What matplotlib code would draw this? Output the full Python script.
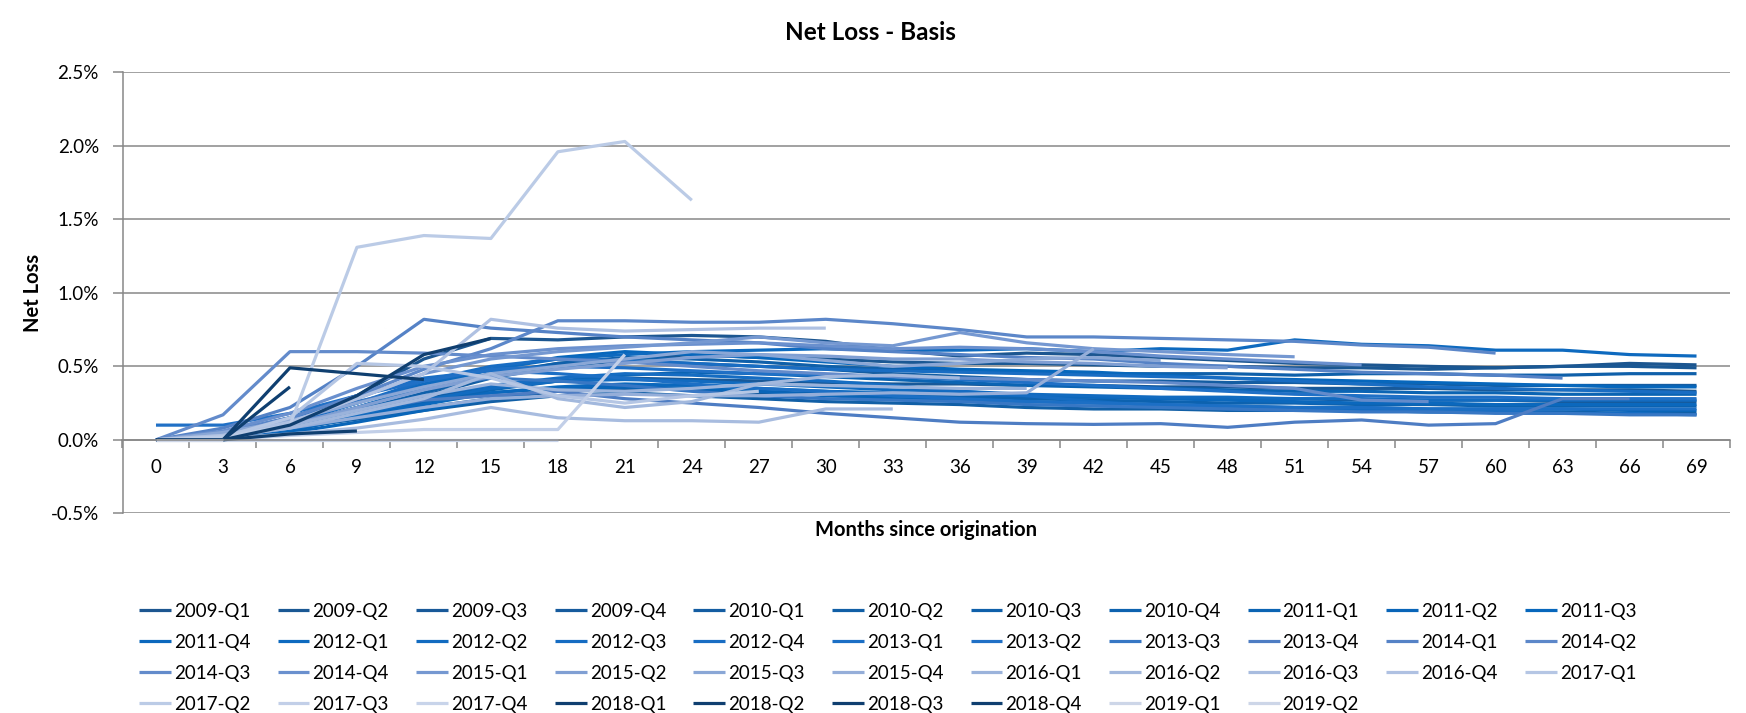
import numpy as np
import matplotlib.pyplot as plt
from matplotlib.colors import to_rgb
from matplotlib.ticker import FuncFormatter, FixedLocator

plt.rcParams['font.family'] = ['Lato', 'DejaVu Sans']

# months since origination (category axis)
months = [0, 3, 6, 9, 12, 15, 18, 21, 24, 27, 30, 33, 36, 39, 42, 45, 48, 51, 54, 57, 60, 63, 66, 69]

quarters = ['2009-Q1', '2009-Q2', '2009-Q3', '2009-Q4',
            '2010-Q1', '2010-Q2', '2010-Q3', '2010-Q4',
            '2011-Q1', '2011-Q2', '2011-Q3', '2011-Q4',
            '2012-Q1', '2012-Q2', '2012-Q3', '2012-Q4',
            '2013-Q1', '2013-Q2', '2013-Q3', '2013-Q4',
            '2014-Q1', '2014-Q2', '2014-Q3', '2014-Q4',
            '2015-Q1', '2015-Q2', '2015-Q3', '2015-Q4',
            '2016-Q1', '2016-Q2', '2016-Q3', '2016-Q4',
            '2017-Q1', '2017-Q2', '2017-Q3', '2017-Q4',
            '2018-Q1', '2018-Q2', '2018-Q3', '2018-Q4',
            '2019-Q1', '2019-Q2']

# net loss in %, one list per cohort
loss_2009 = [
    [0, 0.04, 0.15, 0.30, 0.55, 0.69, 0.68, 0.70, 0.71, 0.70, 0.67, 0.61, 0.57, 0.59, 0.58, 0.56, 0.54, 0.52, 0.51, 0.50, 0.49, 0.50, 0.52, 0.51],
    [0, 0.02, 0.10, 0.22, 0.35, 0.45, 0.52, 0.55, 0.58, 0.56, 0.55, 0.53, 0.52, 0.52, 0.51, 0.50, 0.50, 0.49, 0.49, 0.48, 0.49, 0.50, 0.50, 0.49],
    [0, 0.01, 0.08, 0.18, 0.28, 0.36, 0.40, 0.42, 0.41, 0.40, 0.39, 0.38, 0.38, 0.37, 0.37, 0.36, 0.36, 0.35, 0.35, 0.35, 0.34, 0.34, 0.34, 0.33],
    [0, 0.02, 0.07, 0.15, 0.22, 0.28, 0.33, 0.35, 0.34, 0.32, 0.31, 0.30, 0.30, 0.29, 0.29, 0.28, 0.28, 0.28, 0.27, 0.27, 0.27, 0.26, 0.26, 0.26],
]
loss_2010 = [
    [0, 0.01, 0.06, 0.16, 0.30, 0.42, 0.50, 0.54, 0.52, 0.50, 0.48, 0.45, 0.43, 0.41, 0.40, 0.40, 0.39, 0.39, 0.38, 0.38, 0.37, 0.37, 0.37, 0.37],
    [0, 0.02, 0.08, 0.14, 0.20, 0.26, 0.30, 0.32, 0.30, 0.28, 0.26, 0.25, 0.24, 0.22, 0.21, 0.21, 0.20, 0.20, 0.20, 0.19, 0.19, 0.19, 0.18, 0.18],
    [0, 0.01, 0.09, 0.20, 0.32, 0.44, 0.52, 0.56, 0.55, 0.53, 0.50, 0.48, 0.47, 0.46, 0.45, 0.45, 0.45, 0.44, 0.45, 0.45, 0.44, 0.44, 0.45, 0.45],
    [0, 0.03, 0.10, 0.18, 0.26, 0.32, 0.35, 0.36, 0.35, 0.33, 0.31, 0.30, 0.29, 0.28, 0.27, 0.26, 0.25, 0.25, 0.24, 0.24, 0.23, 0.23, 0.23, 0.23],
]
loss_2011 = [
    [0, 0.02, 0.08, 0.16, 0.25, 0.34, 0.40, 0.44, 0.46, 0.45, 0.43, 0.41, 0.39, 0.37, 0.36, 0.35, 0.34, 0.33, 0.33, 0.32, 0.32, 0.31, 0.31, 0.31],
    [0, 0.01, 0.05, 0.12, 0.20, 0.28, 0.34, 0.36, 0.35, 0.33, 0.30, 0.28, 0.27, 0.26, 0.25, 0.24, 0.23, 0.22, 0.22, 0.21, 0.21, 0.21, 0.20, 0.20],
    [0, 0.02, 0.09, 0.22, 0.36, 0.48, 0.56, 0.60, 0.58, 0.56, 0.53, 0.50, 0.48, 0.47, 0.46, 0.44, 0.42, 0.41, 0.40, 0.39, 0.38, 0.37, 0.36, 0.36],
    [0, 0.01, 0.07, 0.15, 0.24, 0.32, 0.36, 0.38, 0.37, 0.35, 0.33, 0.32, 0.31, 0.30, 0.29, 0.28, 0.27, 0.26, 0.25, 0.25, 0.24, 0.24, 0.24, 0.24],
]
loss_2012 = [
    [0, 0.03, 0.12, 0.25, 0.38, 0.48, 0.55, 0.58, 0.60, 0.61, 0.62, 0.61, 0.61, 0.62, 0.60, 0.62, 0.61, 0.68, 0.65, 0.64, 0.61, 0.61, 0.58, 0.57],
    [0, 0.02, 0.08, 0.17, 0.27, 0.35, 0.40, 0.41, 0.40, 0.38, 0.36, 0.34, 0.33, 0.31, 0.30, 0.29, 0.29, 0.28, 0.28, 0.27, 0.27, 0.27, 0.27, 0.27],
    [0, 0.02, 0.10, 0.20, 0.30, 0.37, 0.42, 0.45, 0.44, 0.42, 0.40, 0.37, 0.33, 0.30, 0.26, 0.23, 0.21, 0.20, 0.20, 0.19, 0.19, 0.18, 0.18, 0.17],
    [0, 0.02, 0.11, 0.25, 0.40, 0.50, 0.55, 0.54, 0.52, 0.50, 0.48, 0.47, 0.46, 0.45, 0.44, 0.43, 0.42, 0.40, 0.38, 0.36, 0.35, 0.34, 0.33, 0.32],
]
loss_2013 = [
    [0, 0.05, 0.15, 0.30, 0.42, 0.47, 0.45, 0.42, 0.38, 0.35, 0.33, 0.30, 0.28, 0.26, 0.25, 0.24, 0.23, 0.22, 0.22, 0.21, 0.21, 0.21, 0.21, 0.21],
    [0.10, 0.10, 0.18, 0.30, 0.40, 0.48, 0.50, 0.49, 0.47, 0.45, 0.44, 0.43, 0.41, 0.39, 0.37, 0.35, 0.33, 0.31, 0.30, 0.29, 0.29, 0.28, 0.28, 0.28],
    [0, 0.04, 0.14, 0.26, 0.36, 0.42, 0.40, 0.37, 0.33, 0.30, 0.28, 0.27, 0.26, 0.24, 0.23, 0.22, 0.21, 0.20, 0.19, 0.19, 0.18, 0.18, 0.17, 0.17],
    [0, 0.05, 0.12, 0.20, 0.27, 0.30, 0.33, 0.28, 0.25, 0.22, 0.18, 0.15, 0.12, 0.11, 0.105, 0.11, 0.085, 0.12, 0.135, 0.10, 0.11, 0.28, 0.28],
]
loss_2014 = [
    [0, 0.08, 0.22, 0.50, 0.82, 0.76, 0.73, 0.70, 0.68, 0.66, 0.62, 0.60, 0.58, 0.56, 0.55, 0.52, 0.50, 0.48, 0.46, 0.45, 0.44, 0.42],
    [0, 0.05, 0.15, 0.30, 0.48, 0.62, 0.81, 0.81, 0.80, 0.80, 0.82, 0.79, 0.75, 0.70, 0.70, 0.69, 0.68, 0.67, 0.645, 0.63, 0.59],
    [0, 0.17, 0.60, 0.60, 0.59, 0.57, 0.55, 0.53, 0.50, 0.47, 0.45, 0.43, 0.42, 0.41, 0.40, 0.39, 0.37, 0.35, 0.27, 0.26],
    [0, 0.06, 0.18, 0.35, 0.50, 0.58, 0.62, 0.64, 0.65, 0.66, 0.64, 0.62, 0.63, 0.62, 0.60, 0.57, 0.55, 0.53, 0.51],
]
loss_2015 = [
    [0, 0.04, 0.12, 0.28, 0.45, 0.55, 0.60, 0.63, 0.66, 0.70, 0.66, 0.64, 0.73, 0.66, 0.62, 0.60, 0.58, 0.565],
    [0, 0.03, 0.10, 0.22, 0.34, 0.43, 0.48, 0.52, 0.56, 0.58, 0.57, 0.55, 0.55, 0.53, 0.52, 0.50, 0.49],
    [0, 0.05, 0.13, 0.25, 0.36, 0.45, 0.50, 0.55, 0.60, 0.58, 0.54, 0.50, 0.52, 0.55, 0.56, 0.54],
    [0, 0.02, 0.08, 0.15, 0.22, 0.28, 0.30, 0.31, 0.30, 0.30, 0.31, 0.32, 0.31, 0.32, 0.62],
]
loss_2016 = [
    [0, 0.03, 0.10, 0.20, 0.30, 0.38, 0.34, 0.33, 0.35, 0.38, 0.37, 0.36, 0.35, 0.35],
    [0, 0.02, 0.08, 0.18, 0.28, 0.45, 0.28, 0.22, 0.26, 0.38, 0.43, 0.44, 0.42],
    [0, 0.01, 0.04, 0.08, 0.14, 0.22, 0.15, 0.13, 0.13, 0.12, 0.21, 0.21],
    [0, 0.03, 0.12, 0.28, 0.45, 0.82, 0.76, 0.74, 0.75, 0.76, 0.76],
]
loss_2017 = [
    [0, 0.02, 0.15, 0.52, 0.50, 0.42, 0.30, 0.25, 0.30, 0.33],
    [0, 0.02, 0.10, 1.31, 1.39, 1.37, 1.96, 2.03, 1.63],
    [0, 0.00, 0.03, 0.05, 0.07, 0.07, 0.07, 0.58],
    [0, 0.00, 0.00, 0.00, 0.00, 0.00, 0.00],
]
loss_2018 = [
    [0, 0.00, 0.10, 0.30, 0.58, 0.69],
    [0, 0.00, 0.49, 0.45, 0.41],
    [0, 0.00, 0.04, 0.06],
    [0, 0.00, 0.36],
]
loss_2019 = [
    [0, 0.00],
    [0],
]

series = loss_2009 + loss_2010 + loss_2011 + loss_2012 + loss_2013 + loss_2014 + \
    loss_2015 + loss_2016 + loss_2017 + loss_2018 + loss_2019

# blue shades like the Excel monochrome palette
anchors = [(0, '#1C5690'), (10, '#0767BC'), (17, '#2070C6'), (19, '#4E7DC3'),
           (23, '#6A90CE'), (27, '#95AED9'), (35, '#C8D4EA')]
ai = [a[0] for a in anchors]
ac = np.array([to_rgb(a[1]) for a in anchors])


def shade(i):
    if 36 <= i <= 39:
        return '#0F3F70'
    if i >= 40:
        return '#CDD6E8'
    return tuple(np.interp(i, ai, ac[:, k]) for k in range(3))


fig = plt.figure(figsize=(17.46, 7.13), dpi=100)
ax = fig.add_axes([122.5 / 1746, 1 - 513.3 / 713, (1730 - 122.5) / 1746, (513.3 - 72.4) / 713])

grey = '#878787'
lines = []
for i, vals in enumerate(series):
    ln, = ax.plot(np.arange(len(vals)), vals, color=shade(i), lw=2.3,
                  solid_joinstyle='round', solid_capstyle='butt', label=quarters[i])
    lines.append(ln)

ax.set_xlim(-0.5, len(months) - 0.5)
ax.set_ylim(-0.5, 2.5)
ax.yaxis.set_major_locator(FixedLocator([-0.5, 0, 0.5, 1.0, 1.5, 2.0, 2.5]))
ax.yaxis.set_major_formatter(FuncFormatter(lambda v, p: f'{v:.1f}%'))
ax.grid(axis='y', color=grey, lw=1.1)
ax.set_axisbelow(True)

ax.set_xticks(np.arange(len(months)))
ax.set_xticklabels([str(m) for m in months])
ax.set_xticks(np.arange(-0.5, len(months)), minor=True)
ax.tick_params(axis='x', which='major', length=0, pad=14, labelsize=13.5)
ax.tick_params(axis='x', which='minor', length=6, width=1.1, color=grey, direction='out')
ax.tick_params(axis='y', length=7, width=1.1, color=grey, pad=10, labelsize=13.5)

for s in ['top', 'right']:
    ax.spines[s].set_visible(False)
ax.spines['bottom'].set_position(('data', 0))
ax.spines['bottom'].set_color(grey)
ax.spines['bottom'].set_linewidth(1.1)
ax.spines['left'].set_color(grey)
ax.spines['left'].set_linewidth(1.1)

fig.text(0.4985, 1 - 33 / 713, 'Net Loss - Basis', ha='center', va='center',
         fontsize=17.5, fontweight='bold')
fig.text(926 / 1746, 1 - 530 / 713, 'Months since origination', ha='center', va='center',
         fontsize=14.5, fontweight='bold')
fig.text(33 / 1746, 1 - 293 / 713, 'Net Loss', ha='center', va='center', rotation=90,
         fontsize=14.5, fontweight='bold')

# legend filled row by row, 11 per row
ncol = 11
order = []
for c in range(ncol):
    for r in range(4):
        k = r * ncol + c
        if k < len(lines):
            order.append(k)
fig.legend([lines[k] for k in order], [quarters[k] for k in order],
           ncol=ncol, loc='upper left', bbox_to_anchor=(139 / 1746, 1 - 603 / 713),
           frameon=False, fontsize=13.5, handlelength=1.7, handletextpad=0.16,
           columnspacing=1.45, labelspacing=0.74, borderpad=0, borderaxespad=0)

fig.savefig('out.png', dpi=100)
